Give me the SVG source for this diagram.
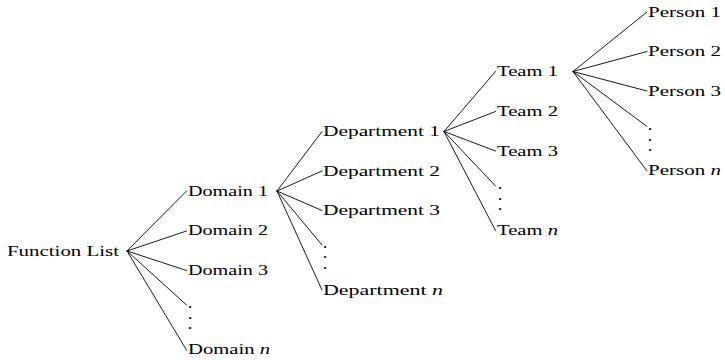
<svg xmlns="http://www.w3.org/2000/svg" width="725" height="360" viewBox="0 0 725 360">
  <style>
    text { font-family: "Liberation Serif", "DejaVu Serif", serif; font-size: 15px; fill: #000; }
    .it { font-style: italic; }
    .dot { font-size: 9px; }
    .edge { stroke: #000; stroke-width: 0.9; fill: none; stroke-linecap: round; }
  </style>
  <rect width="725" height="360" fill="#fff"/>

  <!-- connectors -->
  <g id="connectors">
    <!-- Function List -> domains -->
    <line class="edge" x1="127" y1="251" x2="186.5" y2="191"/>
    <line class="edge" x1="127" y1="251" x2="186.5" y2="231"/>
    <line class="edge" x1="127" y1="251" x2="186.5" y2="270.5"/>
    <line class="edge" x1="127" y1="251" x2="186.5" y2="305"/>
    <line class="edge" x1="127" y1="251" x2="186.5" y2="350"/>
    <!-- Domain 1 -> departments -->
    <line class="edge" x1="277" y1="191" x2="322" y2="131.5"/>
    <line class="edge" x1="277" y1="191" x2="322" y2="171"/>
    <line class="edge" x1="277" y1="191" x2="322" y2="210.5"/>
    <line class="edge" x1="277" y1="191" x2="322" y2="245"/>
    <line class="edge" x1="277" y1="191" x2="322" y2="290"/>
    <!-- Department 1 -> teams -->
    <line class="edge" x1="444" y1="131.5" x2="495.5" y2="71.5"/>
    <line class="edge" x1="444" y1="131.5" x2="495.5" y2="111.5"/>
    <line class="edge" x1="444" y1="131.5" x2="495.5" y2="151"/>
    <line class="edge" x1="444" y1="131.5" x2="495.5" y2="186"/>
    <line class="edge" x1="444" y1="131.5" x2="495.5" y2="230.5"/>
    <!-- Team 1 -> persons -->
    <line class="edge" x1="573" y1="71.5" x2="647" y2="12"/>
    <line class="edge" x1="573" y1="71.5" x2="647" y2="51.5"/>
    <line class="edge" x1="573" y1="71.5" x2="647" y2="91"/>
    <line class="edge" x1="573" y1="71.5" x2="647" y2="126.5"/>
    <line class="edge" x1="573" y1="71.5" x2="647" y2="171"/>
  </g>

  <!-- root -->
  <g id="function-list">
    <text x="7" y="255.5" textLength="112" lengthAdjust="spacingAndGlyphs">Function List</text>
  </g>

  <!-- domains -->
  <g id="domain-1"><text x="188" y="195.6" textLength="80" lengthAdjust="spacingAndGlyphs">Domain 1</text></g>
  <g id="domain-2"><text x="188" y="235.3" textLength="80" lengthAdjust="spacingAndGlyphs">Domain 2</text></g>
  <g id="domain-3"><text x="188" y="275" textLength="80" lengthAdjust="spacingAndGlyphs">Domain 3</text></g>
  <g id="domain-dots">
    <text class="dot" x="188.4" y="310.2">•</text>
    <text class="dot" x="188.4" y="320.7">•</text>
    <text class="dot" x="188.4" y="331.2">•</text>
  </g>
  <g id="domain-n"><text x="188" y="354.4" textLength="82" lengthAdjust="spacingAndGlyphs">Domain <tspan class="it">n</tspan></text></g>

  <!-- departments -->
  <g id="department-1"><text x="323" y="135.9" textLength="117" lengthAdjust="spacingAndGlyphs">Department 1</text></g>
  <g id="department-2"><text x="323" y="175.6" textLength="117" lengthAdjust="spacingAndGlyphs">Department 2</text></g>
  <g id="department-3"><text x="323" y="215.3" textLength="117" lengthAdjust="spacingAndGlyphs">Department 3</text></g>
  <g id="department-dots">
    <text class="dot" x="323.4" y="249.7">•</text>
    <text class="dot" x="323.4" y="260.2">•</text>
    <text class="dot" x="323.4" y="270.7">•</text>
  </g>
  <g id="department-n"><text x="323" y="294.7" textLength="120" lengthAdjust="spacingAndGlyphs">Department <tspan class="it">n</tspan></text></g>

  <!-- teams -->
  <g id="team-1"><text x="497" y="76.2" textLength="61" lengthAdjust="spacingAndGlyphs">Team 1</text></g>
  <g id="team-2"><text x="497" y="115.9" textLength="61" lengthAdjust="spacingAndGlyphs">Team 2</text></g>
  <g id="team-3"><text x="497" y="155.6" textLength="61" lengthAdjust="spacingAndGlyphs">Team 3</text></g>
  <g id="team-dots">
    <text class="dot" x="498.4" y="191.2">•</text>
    <text class="dot" x="498.4" y="201.7">•</text>
    <text class="dot" x="498.4" y="212.2">•</text>
  </g>
  <g id="team-n"><text x="497" y="235" textLength="61" lengthAdjust="spacingAndGlyphs">Team <tspan class="it">n</tspan></text></g>

  <!-- persons -->
  <g id="person-1"><text x="648" y="16.5" textLength="73" lengthAdjust="spacingAndGlyphs">Person 1</text></g>
  <g id="person-2"><text x="648" y="56.2" textLength="73" lengthAdjust="spacingAndGlyphs">Person 2</text></g>
  <g id="person-3"><text x="648" y="95.9" textLength="73" lengthAdjust="spacingAndGlyphs">Person 3</text></g>
  <g id="person-dots">
    <text class="dot" x="648.4" y="132.2">•</text>
    <text class="dot" x="648.4" y="142.7">•</text>
    <text class="dot" x="648.4" y="153.2">•</text>
  </g>
  <g id="person-n"><text x="648" y="175.3" textLength="73" lengthAdjust="spacingAndGlyphs">Person <tspan class="it">n</tspan></text></g>
</svg>
